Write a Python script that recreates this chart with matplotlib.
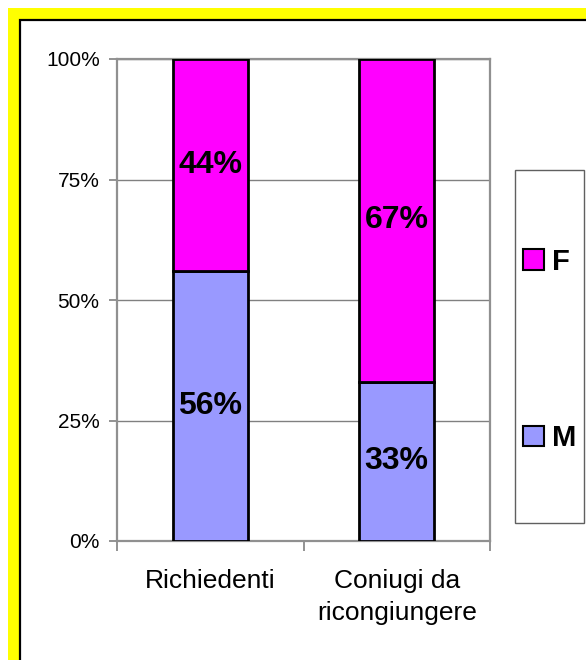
import matplotlib.pyplot as plt
from matplotlib.patches import Rectangle, Patch
from matplotlib.ticker import FixedLocator, PercentFormatter

plt.rcParams['font.family'] = ['Liberation Sans', 'DejaVu Sans']

categories = ["Richiedenti", "Coniugi da\nricongiungere"]
m_values = [56, 33]
f_values = [44, 67]
m_labels = ["56%", "33%"]
f_labels = ["44%", "67%"]

W, H = 586, 660
fig = plt.figure(figsize=(W / 100, H / 100), dpi=100)

# yellow frame (only top/left visible) + black inner border
fig.patches.append(Rectangle((8 / W, -0.2), 1.5, 1.2 - 8 / H,
                             transform=fig.transFigure, facecolor="#FFFF00",
                             edgecolor="none", zorder=-3))
fig.patches.append(Rectangle((19.5 / W, -0.2), 1.5, 1.2 - 19.5 / H,
                             transform=fig.transFigure, facecolor="white",
                             edgecolor="black", lw=1.6, zorder=-2))

ax = fig.add_axes([117 / W, (H - 541) / H, 373 / W, 482 / H])
ax.set_zorder(2)
ax.set_facecolor("white")
x = [0, 1]
ax.bar(x, m_values, width=0.4, color="#9999FF", edgecolor="black", lw=2, zorder=3)
ax.bar(x, f_values, width=0.4, bottom=m_values, color="#FF00FF",
       edgecolor="black", lw=2, zorder=3)

for i in range(len(x)):
    ax.text(x[i], m_values[i] / 2, m_labels[i], ha="center", va="center",
            fontsize=23, fontweight="bold", zorder=4)
    ax.text(x[i], m_values[i] + f_values[i] / 2, f_labels[i], ha="center",
            va="center", fontsize=23, fontweight="bold", zorder=4)

ax.set_xlim(-0.5, 1.5)
ax.set_ylim(0, 100)
ax.set_yticks([0, 25, 50, 75, 100])
ax.yaxis.set_major_formatter(PercentFormatter(decimals=0))
ax.grid(axis="y", color="#808080", lw=1, zorder=1)
ax.set_xticks(x)
ax.set_xticklabels(categories, fontsize=19, linespacing=1.45)
ax.xaxis.set_minor_locator(FixedLocator([-0.5, 0.5, 1.5]))
ax.tick_params(axis="x", which="major", length=0, pad=20)
ax.tick_params(axis="x", which="minor", length=7, width=1.2, color="#808080")
ax.tick_params(axis="y", length=6, width=1.2, color="#808080", pad=6.5,
               labelsize=15)
for s in ax.spines.values():
    s.set_color("#909090")
    s.set_linewidth(1.6)

# legend box
fig.patches.append(Rectangle((515 / W, (H - 523) / H), 69 / W, 353 / H,
                             transform=fig.transFigure, facecolor="white",
                             edgecolor="#606060", lw=1, zorder=1))
handles = [Patch(facecolor="#FF00FF", edgecolor="black", lw=1.5),
           Patch(facecolor="#9999FF", edgecolor="black", lw=1.5)]
leg = fig.legend(handles, ["F", "M"], loc="center",
                 bbox_to_anchor=(550 / W, (H - 350) / H), frameon=False,
                 prop={"weight": "bold", "size": 21}, handlelength=0.7,
                 handleheight=0.7, handletextpad=0.3, labelspacing=5.1)
leg.set_zorder(3)

fig.savefig("out.png", dpi=100)
